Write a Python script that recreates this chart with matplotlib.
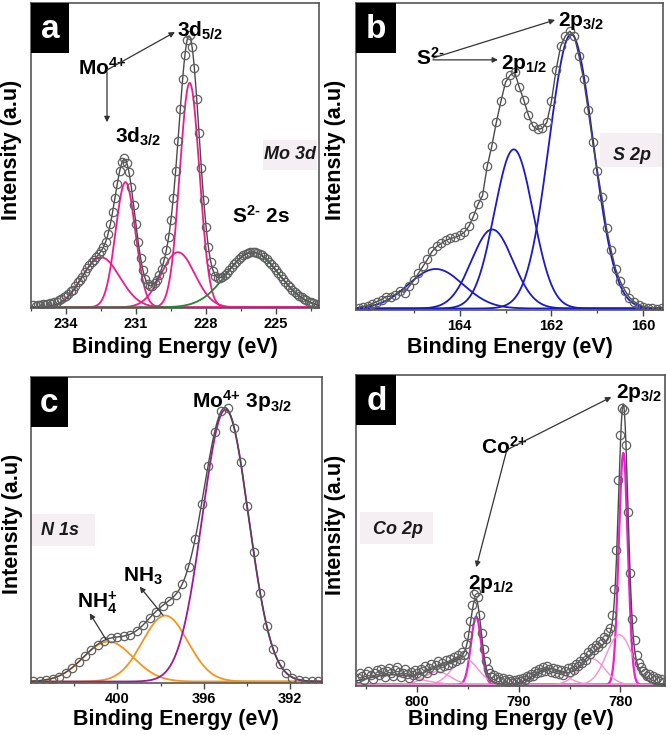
import numpy as np
import matplotlib
matplotlib.use("Agg")
import matplotlib.pyplot as plt
from matplotlib.patches import Rectangle
from matplotlib.ticker import FixedLocator

plt.rcParams["font.family"] = ["Liberation Sans", "DejaVu Sans"]
plt.rcParams["font.weight"] = "bold"
plt.rcParams["mathtext.fontset"] = "custom"
plt.rcParams["mathtext.rm"] = "Liberation Sans:bold"
plt.rcParams["mathtext.it"] = "Liberation Sans:bold:italic"
plt.rcParams["mathtext.bf"] = "Liberation Sans:bold"
plt.rcParams["mathtext.default"] = "rm"

# ---------------- (a) Mo 3d ----------------
mo_energy = np.round(np.arange(235.4, 223.15, -0.1), 1)
mo_counts = [2, 1, 2, 2, 3, 2, 3, 4, 3, 5, 5, 7, 8, 10, 11,
             13, 16, 17, 21, 25, 27, 30, 35, 39, 42,
             45, 47, 50, 53, 56, 60, 65, 73, 83, 95,
             109, 123, 136, 145, 149, 144, 135, 120, 102, 83,
             65, 49, 37, 28, 23, 21, 21, 24, 27, 32,
             38, 46, 57, 70, 87, 109, 136, 166, 198, 228,
             252, 267, 272, 260, 239, 208, 174, 139, 107, 80,
             60, 45, 36, 31, 29, 29, 30, 32, 34, 37,
             40, 43, 45, 48, 50, 52, 53, 54, 55, 55,
             55, 54, 53, 52, 50, 48, 45, 43, 40, 37,
             34, 31, 28, 25, 22, 20, 17, 15, 13, 11,
             10, 8, 7, 5, 5, 4, 3, 2]
mo_centers = [232.5, 231.45, 229.2, 228.7, 226.0]
mo_heights = [50, 125, 55, 224, 55]
mo_fwhm = [1.9, 1.0, 1.7, 0.99, 2.64]
mo_ticks = [234, 231, 228, 225]
mo_minor = [235.5, 232.5, 229.5, 226.5, 223.5]

# ---------------- (b) S 2p ----------------
s_energy = np.round(np.arange(166.2, 159.55, -0.1), 1)
s_counts = [1, 2, 3, 5, 7, 9, 12, 12, 14, 18,
            16, 22, 28, 35, 42, 49, 57, 62, 65, 68,
            70, 71, 73, 76, 82, 92, 104, 113, 142, 162,
            186, 207, 226, 233, 236, 221, 208, 193, 182, 179,
            180, 186, 207, 238, 262, 272, 277, 272, 252, 229,
            198, 166, 137, 111, 80, 58, 39, 27, 18, 11,
            7, 4, 2, 1, 1, 0, 1]
s_centers = [164.52, 163.29, 162.82, 161.57]
s_heights = [39.5, 79, 159, 274]
s_fwhm = [1.41, 1.06, 0.99, 1.13]
s_ticks = [164, 162, 160]
s_minor = [165, 163, 161]

# ---------------- (c) N 1s ----------------
n_energy = np.round(np.arange(403.9, 390.65, -0.3), 1)
n_counts = [1, 1, 2, 3, 5, 9, 14, 20, 26, 32,
            37, 41, 44, 45, 46, 47, 51, 57, 64, 70,
            76, 81, 87, 98, 115, 143, 178, 216, 250, 271,
            274, 254, 220, 176, 130, 89, 56, 33, 18, 9,
            4, 2, 1, 1, 1]
n_centers = [400.42, 397.79, 395.0]
n_heights = [40, 66, 272]
n_fwhm = [2.71, 2.47, 2.52]
n_ticks = [400, 396, 392]
n_minor = [402, 398, 394]

# ---------------- (d) Co 2p ----------------
co_energy = np.round(np.arange(805.8, 775.75, -0.2), 1)
co_counts = [7, 12, 9, 5, 11, 14, 10, 6, 12, 15,
             10, 16, 13, 8, 14, 17, 12, 9, 15, 18,
             13, 8, 12, 16, 11, 7, 13, 10, 15, 12,
             9, 16, 14, 19, 12, 17, 21, 15, 20, 24,
             17, 22, 19, 25, 20, 26, 22, 28, 24, 30,
             26, 33, 30, 41, 50, 64, 80, 91, 93, 88,
             70, 52, 36, 24, 16, 12, 8, 10, 6, 8,
             4, 7, 5, 3, 6, 4, 2, 5, 3, 6,
             4, 7, 5, 9, 8, 11, 9, 14, 12, 16,
             13, 18, 14, 19, 16, 13, 17, 12, 16, 11,
             15, 10, 14, 17, 13, 18, 15, 21, 19, 24,
             22, 28, 25, 33, 31, 37, 35, 40, 38, 44,
             42, 48, 46, 53, 57, 70, 96, 135, 205, 250,
             277, 275, 240, 173, 112, 66, 45, 30, 22, 18,
             14, 12, 9, 11, 7, 9, 5, 7, 4, 6,
             3]
co_centers = [779.7, 794.2, 780.1, 782.8, 787.0, 795.3, 798.0, 802.5]
co_heights = [232, 68, 50, 26, 16, 26, 13, 10]
co_fwhm = [1.05, 1.2, 2.99, 2.99, 3.51, 2.99, 2.99, 5.89]
co_ticks = [800, 790, 780]
co_minor = [805, 795, 785]

GRAY_LINE = "#4a4a4a"
CIRCLE = "#606060"
BOX_BG = "#f5eef2"


def peak(e, c, h, w):
    s = w / 2.3548
    return h * np.exp(-0.5 * ((e - c) / s) ** 2)


def draw_components(ax, xlim, centers, heights, widths, colors, lws):
    e = np.linspace(min(xlim), max(xlim), 2500)
    total = np.zeros_like(e)
    for c, h, w, col, lw in zip(centers, heights, widths, colors, lws):
        y = peak(e, c, h, w)
        total += y
        ax.plot(e, y, color=col, lw=lw, zorder=2)
    return e, total


def style(ax, xlim, ylim, ticks, minor, letter, box_w, box_h, ylab_x, xlab_y):
    ax.set_xlim(*xlim)
    ax.set_ylim(*ylim)
    ax.xaxis.set_major_locator(FixedLocator(ticks))
    ax.xaxis.set_minor_locator(FixedLocator(minor))
    ax.set_yticks([])
    ax.tick_params(axis="x", which="major", direction="out", length=4,
                   width=1.0, color="#444444", labelsize=10.5, pad=2.5)
    ax.tick_params(axis="x", which="minor", direction="out", length=2.2,
                   width=0.9, color="#444444")
    for s in ax.spines.values():
        s.set_color("#555555")
        s.set_linewidth(1.2)
    ax.set_xlabel("Binding Energy (eV)", fontsize=15.5, fontweight="bold")
    ax.xaxis.label.set_va("center")
    ax.xaxis.set_label_coords(0.5, xlab_y)
    ax.set_ylabel("Intensity (a.u)", fontsize=15.5, fontweight="bold")
    ax.yaxis.label.set_va("center")
    ax.yaxis.set_label_coords(ylab_x, 0.52)
    ax.add_patch(Rectangle((0, 1 - box_h), box_w, box_h, transform=ax.transAxes,
                           facecolor="black", edgecolor="none", zorder=6, clip_on=False))
    ax.text(box_w / 2, 1 - box_h / 2 - 0.005, letter, transform=ax.transAxes,
            color="white", fontsize=24, fontweight="bold", ha="center",
            va="center", zorder=7)


def tag_box(ax, x0, y0, w, h, label, tx, ty):
    ax.add_patch(Rectangle((x0, y0), w, h, transform=ax.transAxes,
                           facecolor=BOX_BG, edgecolor="none", zorder=1))
    ax.text(tx, ty, label, transform=ax.transAxes, ha="center", va="center",
            fontsize=13, fontweight="bold", style="italic", color="#1a1a1a", zorder=7)


def arrow(ax, tail, head):
    ax.annotate("", xy=head, xytext=tail, xycoords="axes fraction",
                textcoords="axes fraction",
                arrowprops=dict(arrowstyle="-|>", color="#333333", lw=0.9,
                                mutation_scale=8, shrinkA=0, shrinkB=0), zorder=7)


def label(ax, x, y, s, size=15):
    ax.text(x, y, s, transform=ax.transAxes, ha="left", va="baseline",
            fontsize=size, fontweight="bold", color="black", zorder=7)


fig = plt.figure(figsize=(6.66, 7.35), dpi=100)
axA = fig.add_axes([0.0465, 0.5805, 0.4324, 0.4158])
axB = fig.add_axes([0.535, 0.5782, 0.4605, 0.4181])
axC = fig.add_axes([0.0465, 0.0707, 0.4365, 0.4163])
axD = fig.add_axes([0.535, 0.0663, 0.463, 0.4231])

marker_kw = dict(mfc="none", mec=CIRCLE, mew=0.9, ms=6, zorder=4)

# ---- (a)
xl = (235.5, 223.16)
pink = "#ec1c8c"
e, tot = draw_components(axA, xl, mo_centers, mo_heights, mo_fwhm,
                         [pink, pink, pink, pink, "#23892f"], [1.3] * 5)
axA.plot(e, tot, color=GRAY_LINE, lw=1.0, zorder=3)
axA.plot(mo_energy, mo_counts, "o", **marker_kw)
style(axA, xl, (-1, 304), mo_ticks, mo_minor, "a", 0.132, 0.164, -0.066, -0.128)
tag_box(axA, 0.806, 0.453, 0.187, 0.098, "Mo 3d", 0.899, 0.502)
label(axA, 0.163, 0.763, r"$\mathrm{Mo}^{4{+}}$")
label(axA, 0.507, 0.888, r"$\mathrm{3d}_{5/2}$")
label(axA, 0.292, 0.541, r"$\mathrm{3d}_{3/2}$")
label(axA, 0.698, 0.279, r"$\mathrm{S}^{2\text{-}}\ \mathrm{2s}$")
arrow(axA, (0.264, 0.780), (0.50, 0.904))
arrow(axA, (0.264, 0.773), (0.264, 0.609))

# ---- (b)
xl = (166.25, 159.57)
blue = "#1a1ac8"
draw_components(axB, xl, s_centers, s_heights, s_fwhm, [blue] * 4, [1.3] * 4)
axB.plot(s_energy, s_counts, color=GRAY_LINE, lw=1.0, zorder=3)
axB.plot(s_energy, s_counts, "o", **marker_kw)
style(axB, xl, (-1.5, 305.5), s_ticks, s_minor, "b", 0.130, 0.165, -0.069, -0.122)
tag_box(axB, 0.794, 0.465, 0.206, 0.111, "S 2p", 0.899, 0.504)
label(axB, 0.195, 0.797, r"$\mathrm{S}^{2\text{-}}$")
label(axB, 0.471, 0.784, r"$\mathrm{2p}_{1/2}$")
label(axB, 0.658, 0.924, r"$\mathrm{2p}_{3/2}$")
arrow(axB, (0.25, 0.814), (0.462, 0.814))
arrow(axB, (0.25, 0.820), (0.648, 0.944))

# ---- (c)
xl = (404.0, 390.55)
orange = "#f7941d"
e, tot = draw_components(axC, xl, n_centers, n_heights, n_fwhm,
                         [orange, orange, "#a0179d"], [1.3] * 3)
axC.plot(e, tot, color=GRAY_LINE, lw=1.0, zorder=3)
axC.plot(n_energy, n_counts, "o", **marker_kw)
style(axC, xl, (-1.5, 304.5), n_ticks, n_minor, "c", 0.126, 0.163, -0.065, -0.118)
tag_box(axC, 0.0, 0.448, 0.22, 0.104, "N 1s", 0.10, 0.50)
label(axC, 0.554, 0.899, r"$\mathrm{Mo}^{4{+}}\ \mathrm{3p}_{3/2}$")
label(axC, 0.316, 0.330, r"$\mathrm{NH}_3$")
label(axC, 0.158, 0.245, r"$\mathrm{NH}_4^{+}$")
arrow(axC, (0.454, 0.222), (0.374, 0.315))
arrow(axC, (0.259, 0.141), (0.202, 0.228))

# ---- (d)
xl = (806.0, 775.63)
mag = "#f01ed2"
light = "#f590d4"
e, tot = draw_components(axD, xl, co_centers, co_heights, co_fwhm,
                         [mag, mag] + [light] * 6, [1.6, 1.6] + [1.0] * 6)
axD.plot(e, tot, color=GRAY_LINE, lw=1.0, zorder=3)
axD.plot(co_energy, co_counts, "o", **marker_kw)
style(axD, xl, (-1.6, 309.7), co_ticks, co_minor, "d", 0.130, 0.161, -0.069, -0.108)
tag_box(axD, 0.012, 0.458, 0.237, 0.102, "Co 2p", 0.135, 0.503)
label(axD, 0.404, 0.747, r"$\mathrm{Co}^{2{+}}$")
label(axD, 0.842, 0.927, r"$\mathrm{2p}_{3/2}$")
label(axD, 0.362, 0.313, r"$\mathrm{2p}_{1/2}$")
arrow(axD, (0.486, 0.759), (0.827, 0.930))
arrow(axD, (0.486, 0.752), (0.389, 0.383))

fig.savefig("out.png", dpi=100)
